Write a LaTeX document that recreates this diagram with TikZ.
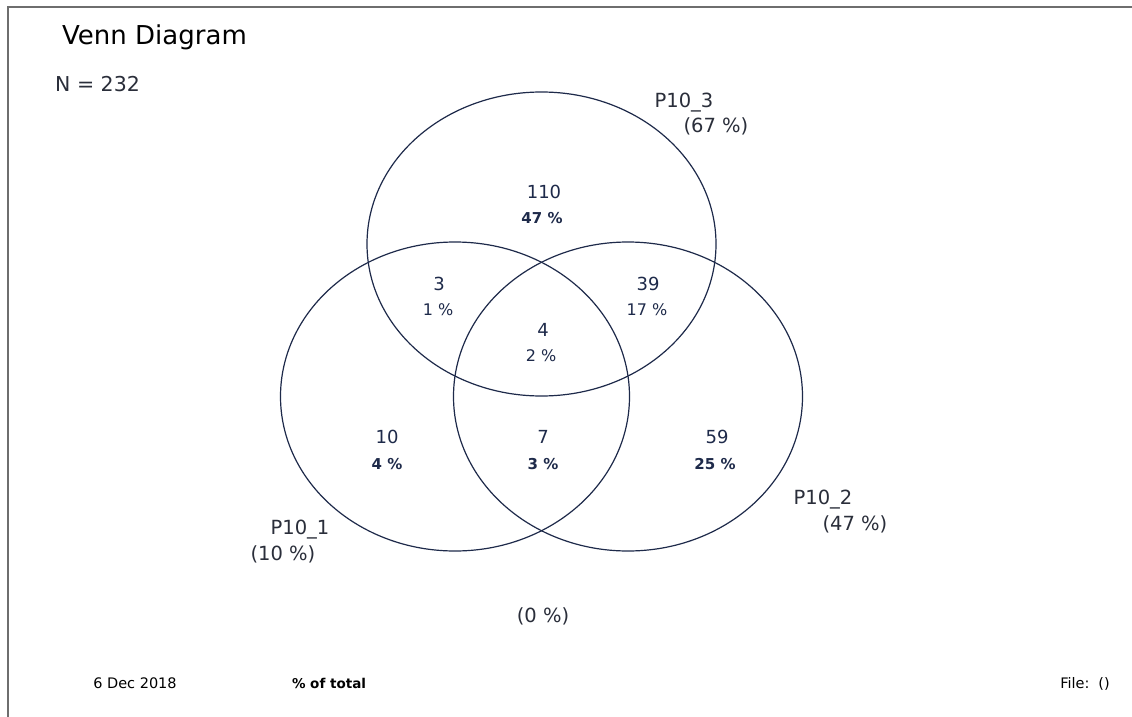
\documentclass[tikz,border=0pt]{standalone}
\usepackage{fontspec}
\setmainfont{DejaVu Sans}
\usepackage{tikz}
\usetikzlibrary{positioning}
\definecolor{VennNavy}{HTML}{1E2A4A}
\definecolor{VennInk}{HTML}{2A2E3A}
\definecolor{VennEdge}{HTML}{6E6E6E}

\begin{document}
\begin{tikzpicture}[x=1pt, y=-1pt,
  ring/.style={draw=VennNavy, line width=1.2pt},
  regioncount/.style={anchor=base, inner sep=0pt, text=VennNavy, font=\fontsize{18}{20}\selectfont},
  regionpct/.style={anchor=base, inner sep=0pt, text=VennNavy, font=\fontsize{16}{18}\selectfont},
  regionpctbold/.style={anchor=base, inner sep=0pt, text=VennNavy, font=\fontsize{15}{17}\selectfont\bfseries},
  setname/.style={anchor=base, inner sep=0pt, text=VennInk, font=\fontsize{19.5}{21}\selectfont},
  footnote/.style={anchor=base, inner sep=0pt, text=black, font=\fontsize{14.5}{16}\selectfont},
  pageedge/.style={draw=VennEdge, line width=2pt}
]
\fill[white] (0,0) rectangle (1132,717);
\useasboundingbox (0,0) rectangle (1132,717);

\coordinate (edgeBL) at (8,717);
\coordinate (edgeTL) at (8,7);
\coordinate (edgeTR) at (1132,7);
\draw[pageedge] (edgeBL) -- (edgeTL) -- (edgeTR);

\node[anchor=base west, inner sep=0pt, font=\fontsize{26}{28}\selectfont, text=black] (title) at (62,45) {Venn Diagram};
\node[anchor=base west, inner sep=0pt, font=\fontsize{20.5}{22}\selectfont, text=VennInk] (total) at (55,92) {N = 232};

\coordinate (setA) at (455,396.5);
\coordinate (setB) at (628,396.5);
\coordinate (setC) at (541.5,244);
\draw[ring] (setA) ellipse [x radius=174.5, y radius=154.5];
\draw[ring] (setB) ellipse [x radius=174.5, y radius=154.5];
\draw[ring] (setC) ellipse [x radius=174.5, y radius=152];

\node[setname] (nameC) at (684,107) {P10\_3};
\node[setname] (pctC)  at (716,132) {(67 \%)};
\node[setname] (nameB) at (823,504) {P10\_2};
\node[setname] (pctB)  at (855,530) {(47 \%)};
\node[setname] (nameA) at (300,534) {P10\_1};
\node[setname] (pctA)  at (283,560) {(10 \%)};
\node[setname] (outside) at (543,622) {(0 \%)};

\node[regioncount]   (onlyC)    at (544,198) {110};
\node[regionpctbold] (onlyCpct) at (542,223) {47 \%};
\node[regioncount]   (AC)       at (439,290) {3};
\node[regionpct]     (ACpct)    at (438,315) {1 \%};
\node[regioncount]   (BC)       at (648,290) {39};
\node[regionpct]     (BCpct)    at (647,315) {17 \%};
\node[regioncount]   (ABC)      at (543,336) {4};
\node[regionpct]     (ABCpct)   at (541,361) {2 \%};
\node[regioncount]   (onlyA)    at (387,443) {10};
\node[regionpctbold] (onlyApct) at (387,469) {4 \%};
\node[regioncount]   (AB)       at (543,443) {7};
\node[regionpctbold] (ABpct)    at (543,469) {3 \%};
\node[regioncount]   (onlyB)    at (717,443) {59};
\node[regionpctbold] (onlyBpct) at (715,469) {25 \%};

\node[footnote] (date)  at (135,688) {6 Dec 2018};
\node[footnote, font=\fontsize{13.5}{16}\selectfont\bfseries] (basis) at (329,688) {\% of total};
\node[footnote] (file)  at (1085,688) {File:\hspace{9pt}()};
\end{tikzpicture}
\end{document}
